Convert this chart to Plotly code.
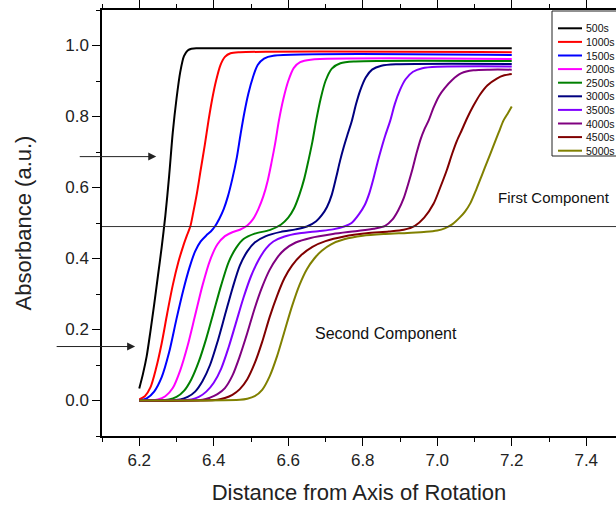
import plotly.graph_objects as go

# ---------------- data ----------------
series_names = ["500s", "1000s", "1500s", "2000s", "2500s",
                "3000s", "3500s", "4000s", "4500s", "5000s"]
series_colors = ["#000000", "#FF0000", "#0000FF", "#FF00FF", "#008000",
                 "#000080", "#8000FF", "#800080", "#800000", "#808000"]

x_500 = [6.2, 6.21, 6.22, 6.23, 6.24, 6.25, 6.26, 6.27, 6.28, 6.29, 6.3, 6.31, 6.32, 6.33, 6.34, 6.36, 7.2]
y_500 = [0.034, 0.075, 0.125, 0.195, 0.27, 0.35, 0.43, 0.52, 0.63, 0.755, 0.85, 0.925, 0.97, 0.986, 0.991, 0.992, 0.992]

x_1000 = [6.2, 6.215, 6.23, 6.245, 6.26, 6.275, 6.29, 6.305, 6.318, 6.328, 6.337, 6.345, 6.355, 6.365, 6.376, 6.386, 6.396, 6.406, 6.418, 6.43, 6.445, 6.47, 7.2]
y_1000 = [0.003, 0.012, 0.037, 0.09, 0.16, 0.245, 0.325, 0.39, 0.435, 0.465, 0.49, 0.53, 0.585, 0.65, 0.72, 0.789, 0.85, 0.9, 0.945, 0.968, 0.978, 0.981, 0.981]

x_1500 = [6.2, 6.22, 6.24, 6.26, 6.28, 6.3, 6.318, 6.335, 6.35, 6.365, 6.38, 6.392, 6.403, 6.415, 6.427, 6.438, 6.45, 6.462, 6.472, 6.482, 6.493, 6.505, 6.518, 6.535, 6.56, 7.2]
y_1500 = [0.0, 0.006, 0.025, 0.065, 0.135, 0.23, 0.31, 0.375, 0.42, 0.448, 0.465, 0.476, 0.49, 0.512, 0.54, 0.575, 0.625, 0.685, 0.75, 0.81, 0.865, 0.91, 0.945, 0.963, 0.971, 0.973]

x_2000 = [6.2, 6.25, 6.27, 6.29, 6.31, 6.33, 6.35, 6.37, 6.39, 6.41, 6.43, 6.45, 6.47, 6.49, 6.505, 6.52, 6.533, 6.545, 6.555, 6.565, 6.575, 6.587, 6.6, 6.615, 6.632, 6.66, 7.2]
y_2000 = [0.0, 0.003, 0.012, 0.035, 0.085, 0.155, 0.24, 0.325, 0.395, 0.44, 0.463, 0.474, 0.481, 0.493, 0.51, 0.54, 0.575, 0.62, 0.67, 0.725, 0.789, 0.85, 0.9, 0.937, 0.953, 0.96, 0.962]

x_2500 = [6.2, 6.28, 6.3, 6.32, 6.34, 6.36, 6.38, 6.4, 6.42, 6.44, 6.46, 6.48, 6.51, 6.55, 6.58, 6.6, 6.615, 6.63, 6.643, 6.655, 6.665, 6.675, 6.687, 6.7, 6.717, 6.74, 6.78, 7.2]
y_2500 = [0.0, 0.003, 0.01, 0.027, 0.06, 0.11, 0.175, 0.25, 0.325, 0.39, 0.43, 0.455, 0.47, 0.48, 0.495, 0.515, 0.54, 0.58, 0.625, 0.68, 0.73, 0.789, 0.85, 0.9, 0.935, 0.95, 0.955, 0.956]

x_3000 = [6.2, 6.31, 6.33, 6.35, 6.37, 6.39, 6.41, 6.43, 6.45, 6.47, 6.49, 6.51, 6.54, 6.58, 6.62, 6.65, 6.675, 6.69, 6.704, 6.717, 6.729, 6.739, 6.749, 6.76, 6.771, 6.782, 6.793, 6.808, 6.825, 6.85, 6.89, 7.2]
y_3000 = [0.0, 0.003, 0.01, 0.025, 0.055, 0.1, 0.165, 0.24, 0.315, 0.38, 0.42, 0.445, 0.463, 0.475, 0.482, 0.49, 0.505, 0.522, 0.545, 0.58, 0.63, 0.675, 0.714, 0.752, 0.789, 0.835, 0.873, 0.91, 0.932, 0.943, 0.947, 0.948]

x_3500 = [6.2, 6.34, 6.36, 6.38, 6.4, 6.42, 6.44, 6.46, 6.48, 6.5, 6.52, 6.54, 6.56, 6.59, 6.63, 6.68, 6.72, 6.75, 6.77, 6.79, 6.805, 6.818, 6.83, 6.84, 6.85, 6.86, 6.874, 6.886, 6.9, 6.915, 6.935, 6.96, 7.0, 7.2]
y_3500 = [0.0, 0.003, 0.01, 0.025, 0.05, 0.09, 0.15, 0.22, 0.29, 0.35, 0.395, 0.428, 0.448, 0.462, 0.471, 0.477, 0.482, 0.49, 0.5, 0.525, 0.55, 0.585, 0.63, 0.672, 0.71, 0.745, 0.789, 0.835, 0.875, 0.905, 0.926, 0.936, 0.94, 0.941]

x_4000 = [6.2, 6.37, 6.39, 6.41, 6.43, 6.45, 6.47, 6.49, 6.51, 6.53, 6.55, 6.57, 6.59, 6.62, 6.66, 6.72, 6.78, 6.83, 6.86, 6.88, 6.895, 6.91, 6.922, 6.933, 6.944, 6.955, 6.966, 6.977, 6.99, 7.005, 7.02, 7.04, 7.065, 7.097, 7.14, 7.2]
y_4000 = [0.0, 0.002, 0.008, 0.018, 0.035, 0.07, 0.125, 0.19, 0.26, 0.32, 0.368, 0.402, 0.425, 0.445, 0.458, 0.469, 0.477, 0.484, 0.492, 0.51, 0.535, 0.57, 0.61, 0.65, 0.695, 0.735, 0.765, 0.789, 0.825, 0.858, 0.88, 0.903, 0.922, 0.93, 0.932, 0.932]

x_4500 = [6.2, 6.41, 6.43, 6.45, 6.47, 6.49, 6.51, 6.53, 6.55, 6.57, 6.59, 6.61, 6.635, 6.665, 6.7, 6.75, 6.81, 6.87, 6.91, 6.94, 6.965, 6.99, 7.008, 7.026, 7.04, 7.053, 7.066, 7.08, 7.097, 7.115, 7.135, 7.16, 7.18, 7.2]
y_4500 = [0.0, 0.002, 0.007, 0.016, 0.032, 0.06, 0.105, 0.165, 0.235, 0.295, 0.345, 0.38, 0.41, 0.433, 0.449, 0.462, 0.471, 0.476, 0.481, 0.492, 0.515, 0.554, 0.6, 0.65, 0.695, 0.732, 0.762, 0.795, 0.83, 0.862, 0.888, 0.907, 0.916, 0.92]

x_5000 = [6.2, 6.47, 6.49, 6.51, 6.53, 6.55, 6.57, 6.59, 6.61, 6.63, 6.65, 6.67, 6.69, 6.715, 6.75, 6.8, 6.86, 6.92, 6.97, 7.0, 7.02, 7.04, 7.06, 7.075, 7.089, 7.105, 7.12, 7.135, 7.15, 7.165, 7.178, 7.19, 7.2]
y_5000 = [0.0, 0.002, 0.005, 0.012, 0.03, 0.068, 0.125, 0.195, 0.265, 0.325, 0.37, 0.4, 0.422, 0.44, 0.454, 0.464, 0.469, 0.472, 0.475, 0.479, 0.485, 0.496, 0.515, 0.533, 0.556, 0.595, 0.635, 0.675, 0.715, 0.755, 0.789, 0.81, 0.828]

series_x = [x_500, x_1000, x_1500, x_2000, x_2500, x_3000, x_3500, x_4000, x_4500, x_5000]
series_y = [y_500, y_1000, y_1500, y_2000, y_2500, y_3000, y_3500, y_4000, y_4500, y_5000]

x_ticks = [6.2, 6.4, 6.6, 6.8, 7.0, 7.2, 7.4]
y_ticks = [0.0, 0.2, 0.4, 0.6, 0.8, 1.0]
boundary_level = 0.49
first_arrow = (6.2456, 0.687)
second_arrow = (6.189, 0.152)

# ---------------- figure ----------------
FONT = "Liberation Sans, Arial, sans-serif"
W, H = 616, 506
ML, MR, MT, MB = 102, 0, 10, 70
PW, PH = W - ML - MR, H - MT - MB

fig = go.Figure()
for xs, ys, name, col in zip(series_x, series_y, series_names, series_colors):
    fig.add_trace(go.Scatter(x=xs, y=ys, name=name, mode="lines",
                             line=dict(color=col, width=2, shape="spline", smoothing=0.8),
                             showlegend=False))

# horizontal boundary line
fig.add_shape(type="line", xref="paper", yref="y", x0=0, x1=1,
              y0=boundary_level, y1=boundary_level,
              line=dict(color="#333333", width=1))

# arrows
for (ax_x, ax_y), length in [(first_arrow, -78), (second_arrow, -80)]:
    fig.add_annotation(x=ax_x, y=ax_y, ax=length, ay=0, text="",
                       showarrow=True, arrowhead=2, arrowsize=1.6,
                       arrowwidth=1, arrowcolor="#222222")

fig.add_annotation(x=7.158, y=0.573, text="First Component", showarrow=False,
                   xanchor="left", yanchor="middle", font=dict(family=FONT, size=15, color="#111"))
fig.add_annotation(x=6.666, y=0.188, text="Second Component", showarrow=False,
                   xanchor="left", yanchor="middle", font=dict(family=FONT, size=16, color="#111"))

# custom legend box, pinned to the top-right corner
def px2paper_x(px):
    return (px - ML) / PW

def py2paper_y(py):
    return (H - MB - py) / PH

fig.add_shape(type="rect", xref="paper", yref="paper",
              x0=px2paper_x(552), x1=px2paper_x(640),
              y0=py2paper_y(156), y1=py2paper_y(11),
              line=dict(color="#222", width=1), fillcolor="white", layer="above")
for i, (name, col) in enumerate(zip(series_names, series_colors)):
    py = 28.3 + i * 13.6
    fig.add_shape(type="line", xref="paper", yref="paper",
                  x0=px2paper_x(558), x1=px2paper_x(582),
                  y0=py2paper_y(py), y1=py2paper_y(py),
                  line=dict(color=col, width=2), layer="above")
    fig.add_annotation(xref="paper", yref="paper", x=px2paper_x(583.5), y=py2paper_y(py),
                       text=name, showarrow=False, xanchor="left", yanchor="middle",
                       font=dict(family=FONT, size=10.5, color="#111"))

axis_common = dict(showline=True, linecolor="black", linewidth=1.5,
                   ticks="outside", ticklen=8, tickwidth=1.2, tickcolor="black",
                   showgrid=False, zeroline=False, automargin=False,
                   tickfont=dict(family=FONT, size=17, color="#222"))

fig.update_xaxes(range=[6.1, 6.1 + PW / 372.5], tickvals=x_ticks,
                 ticktext=[f"{v:.1f}" for v in x_ticks], mirror="ticks",
                 minor=dict(dtick=0.1, tick0=6.1, ticks="outside", ticklen=4,
                            tickwidth=1.2, tickcolor="black"),
                 title=dict(text="Distance from Axis of Rotation",
                            font=dict(family=FONT, size=22, color="#222"), standoff=15),
                 **axis_common)
fig.update_yaxes(range=[-0.1, 1.1], tickvals=y_ticks,
                 ticktext=[f"{v:.1f}" for v in y_ticks], mirror="ticks",
                 minor=dict(dtick=0.1, tick0=-0.1, ticks="outside", ticklen=4,
                            tickwidth=1.2, tickcolor="black"),
                 title=dict(text="Absorbance (a.u.)",
                            font=dict(family=FONT, size=22, color="#222"), standoff=28),
                 **axis_common)

fig.update_layout(width=W, height=H, margin=dict(l=ML, r=MR, t=MT, b=MB),
                  plot_bgcolor="white", paper_bgcolor="white",
                  font=dict(family=FONT))

fig.write_html("out.html")
